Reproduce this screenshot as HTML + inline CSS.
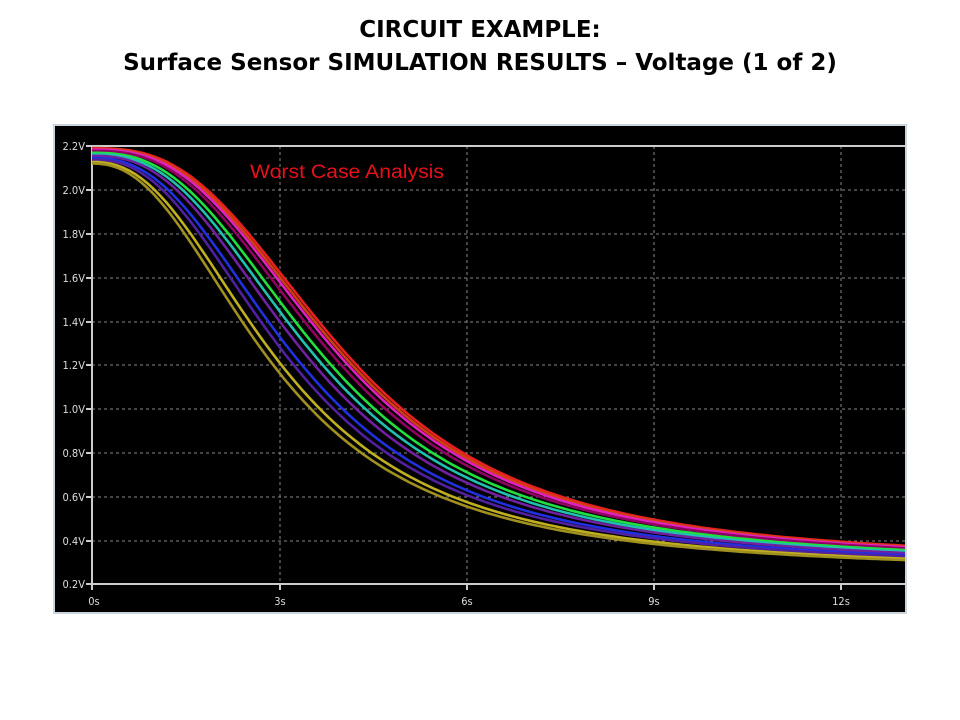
<!DOCTYPE html>
<html><head><meta charset="utf-8"><style>
body{margin:0;background:#fff;width:960px;height:720px;overflow:hidden;font-family:"Liberation Sans",sans-serif}
h1{position:absolute;top:14px;left:0;width:960px;margin:0;text-align:center;font-size:23px;line-height:33px;font-weight:bold;color:#000;font-family:"DejaVu Sans","Liberation Sans",sans-serif;letter-spacing:0px}
</style></head><body>
<h1>CIRCUIT EXAMPLE:<br>Surface Sensor SIMULATION RESULTS – Voltage (1 of 2)</h1>
<svg id="s" style="position:absolute;left:0;top:0" width="960" height="720">
<defs><clipPath id="cp"><rect x="92" y="140" width="813" height="444"/></clipPath></defs>
<rect x="54" y="125" width="852" height="488" fill="#000" stroke="#c9d4dc" stroke-width="2"/>
<g stroke="#888" stroke-dasharray="3,3" stroke-width="1">
<line x1="92" x2="905" y1="190" y2="190"/><line x1="92" x2="905" y1="234" y2="234"/><line x1="92" x2="905" y1="278" y2="278"/><line x1="92" x2="905" y1="322" y2="322"/><line x1="92" x2="905" y1="365" y2="365"/><line x1="92" x2="905" y1="409" y2="409"/><line x1="92" x2="905" y1="453" y2="453"/><line x1="92" x2="905" y1="497" y2="497"/><line x1="92" x2="905" y1="541" y2="541"/>
<line y1="146" y2="584" x1="280" x2="280"/><line y1="146" y2="584" x1="467" x2="467"/><line y1="146" y2="584" x1="654" x2="654"/><line y1="146" y2="584" x1="841" x2="841"/>
</g>
<g stroke="#ccc" stroke-width="2"><line x1="92" x2="905" y1="146" y2="146"/><line x1="92" x2="905" y1="584" y2="584"/><line x1="92" x2="92" y1="146" y2="584"/></g>
<g stroke="#ccc" stroke-width="2"><line x1="86" x2="92" y1="146" y2="146"/><line x1="86" x2="92" y1="190" y2="190"/><line x1="86" x2="92" y1="234" y2="234"/><line x1="86" x2="92" y1="278" y2="278"/><line x1="86" x2="92" y1="322" y2="322"/><line x1="86" x2="92" y1="365" y2="365"/><line x1="86" x2="92" y1="409" y2="409"/><line x1="86" x2="92" y1="453" y2="453"/><line x1="86" x2="92" y1="497" y2="497"/><line x1="86" x2="92" y1="541" y2="541"/><line x1="86" x2="92" y1="584" y2="584"/>
<line x1="92" x2="92" y1="584" y2="590"/><line x1="280" x2="280" y1="584" y2="590"/><line x1="467" x2="467" y1="584" y2="590"/><line x1="654" x2="654" y1="584" y2="590"/><line x1="841" x2="841" y1="584" y2="590"/></g>
<g id="curves" fill="none" stroke-width="2.6" clip-path="url(#cp)"></g>
<g fill="#ddd" font-size="11" font-family="'DejaVu Sans Condensed','Liberation Sans Narrow','Liberation Sans',sans-serif" text-anchor="end">
<text x="85" y="150">2.2V</text><text x="85" y="194">2.0V</text><text x="85" y="238">1.8V</text><text x="85" y="282">1.6V</text><text x="85" y="326">1.4V</text><text x="85" y="369">1.2V</text><text x="85" y="413">1.0V</text><text x="85" y="457">0.8V</text><text x="85" y="501">0.6V</text><text x="85" y="545">0.4V</text><text x="85" y="588">0.2V</text>
</g>
<g fill="#ddd" font-size="11" font-family="'DejaVu Sans Condensed','Liberation Sans Narrow','Liberation Sans',sans-serif" text-anchor="middle">
<text x="94" y="605">0s</text><text x="280" y="605">3s</text><text x="467" y="605">6s</text><text x="654" y="605">9s</text><text x="841" y="605">12s</text>
</g>
<text x="250" y="178" fill="#e8101a" font-size="19" textLength="194" lengthAdjust="spacingAndGlyphs">Worst Case Analysis</text>
</svg>
<script>
var g=document.getElementById('curves');
var cols=[[0,'#e82020'],[0.05,'#d04010'],[0.1,'#e020c0'],[0.18,'#900060'],[0.3,'#20e040'],[0.4,'#20c0b0'],[0.5,'#7020a0'],[0.65,'#2030e0'],[0.75,'#5020a0'],[0.9,'#c0b020'],[1,'#a09020']];
function L(a,b,s){return a+(b-a)*s;}
cols.forEach(function(c){var s=c[0];
 var V0=L(2.19,2.12,s),Vi=L(0.30,0.25,s),t0=L(4.1,2.95,s),n=L(2.75,2.3,s);
 var d='';for(var t=0;t<=13.7;t+=0.1){var V=Vi+(V0-Vi)/(1+Math.pow(t/t0,n));var x=92+t*62.3,y=584-(V-0.2)*219;d+=(d?'L':'M')+x.toFixed(1)+','+y.toFixed(1);}
 var p=document.createElementNS('http://www.w3.org/2000/svg','path');p.setAttribute('d',d);p.setAttribute('stroke',c[1]);g.appendChild(p);});
</script>
</body></html>
